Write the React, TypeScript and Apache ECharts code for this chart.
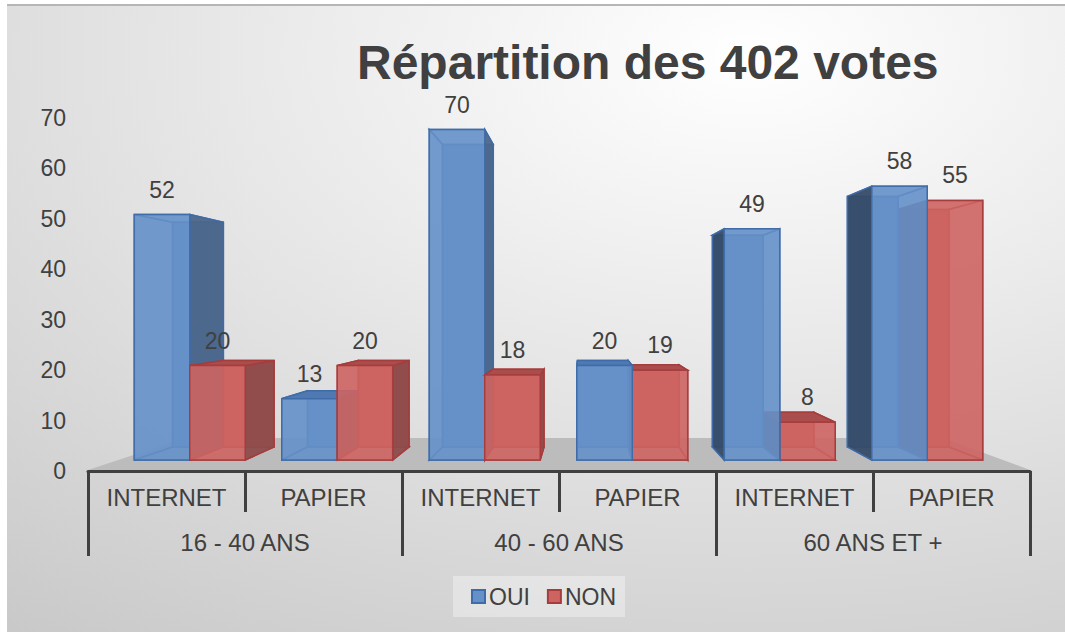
import React, { useEffect, useRef } from "react";
import * as echarts from "echarts";

const TITLE = "Répartition des 402 votes";
const SUB_CATEGORIES = ["INTERNET", "PAPIER", "INTERNET", "PAPIER", "INTERNET", "PAPIER"];
const AGE_GROUPS = ["16 - 40 ANS", "40 - 60 ANS", "60 ANS ET +"];
const SERIES_NAMES = ["OUI", "NON"];
const OUI = [52, 13, 70, 20, 49, 58];
const NON = [20, 20, 18, 19, 8, 55];
const Y_MIN = 0;
const Y_MAX = 70;
const Y_INTERVAL = 10;

// perspective settings (layout only)
const VPX = 585;
const VPY = 306;
const DEPTH = 0.085;
const FONT = "'Liberation Sans', Arial, sans-serif";
const TEXT_COLOR = "#404040";

const PALETTE = [
  { front: "#6590c8", edge: "#3e6ba9", sideR: "#4b6689", sideL: "#364b68", top: "#5079b2" },
  { front: "#cd6462", edge: "#a73c3c", sideR: "#8d4b4b", sideL: "#7a3d3d", top: "#a94d4d" },
];

const proj = (x: number, y: number) => [VPX + (1 - DEPTH) * (x - VPX), VPY + (1 - DEPTH) * (y - VPY)];

function renderBar(params: any, api: any) {
  const s = params.seriesIndex;
  const c = PALETTE[s];
  const cat = api.value(0);
  const v = api.value(1);
  const b = api.coord([cat, 0]);
  const t = api.coord([cat, v]);
  const slot = api.size([1, 0])[0];
  const bw = slot * 0.376;
  const x0 = b[0] - bw + s * bw;
  const x1 = x0 + bw;
  const yT = t[1];
  const yB = b[1];
  const cx = (x0 + x1) / 2;
  const base = Math.round(1000 - Math.abs(cx - VPX)) * 10;

  const ftl = [x0, yT], ftr = [x1, yT], fbl = [x0, yB], fbr = [x1, yB];
  const btl = proj(x0, yT), btr = proj(x1, yT), bbl = proj(x0, yB), bbr = proj(x1, yB);

  const leftVisible = x0 > VPX;
  const rightVisible = x1 < VPX;
  const topVisible = yT > VPY;
  const children: any[] = [];
  const hidden = (pts: number[][]) => ({
    type: "polygon",
    shape: { points: pts },
    style: { fill: "none", stroke: c.edge, lineWidth: 1.5 },
    z2: base + 1,
  });
  children.push({
    type: "polygon",
    shape: { points: [btl, btr, bbr, bbl] },
    style: { fill: c.front, stroke: c.edge, lineWidth: 1.5 },
    z2: base,
  });
  children.push(hidden([fbl, fbr, bbr, bbl]));
  if (!leftVisible) children.push(hidden([ftl, fbl, bbl, btl]));
  if (!rightVisible) children.push(hidden([ftr, fbr, bbr, btr]));
  if (!topVisible) children.push(hidden([ftl, ftr, btr, btl]));
  if (leftVisible)
    children.push({
      type: "polygon",
      shape: { points: [ftl, fbl, bbl, btl] },
      style: { fill: c.sideL, stroke: c.edge, lineWidth: 1.5, opacity: 0.95 },
      z2: base + 2,
    });
  if (rightVisible)
    children.push({
      type: "polygon",
      shape: { points: [ftr, fbr, bbr, btr] },
      style: { fill: c.sideR, stroke: c.edge, lineWidth: 1.5, opacity: 0.95 },
      z2: base + 2,
    });
  if (topVisible)
    children.push({
      type: "polygon",
      shape: { points: [ftl, ftr, btr, btl] },
      style: { fill: c.top, stroke: c.edge, lineWidth: 1.5 },
      z2: base + 3,
    });
  children.push({
    type: "rect",
    shape: { x: x0, y: yT, width: bw, height: yB - yT },
    style: { fill: c.front, stroke: c.edge, lineWidth: 1.5, opacity: 0.9 },
    z2: base + 4,
  });
  children.push({
    type: "text",
    style: {
      text: String(v),
      x: cx,
      y: yT - 25,
      align: "center",
      verticalAlign: "middle",
      fontSize: 23,
      fontFamily: FONT,
      fill: TEXT_COLOR,
    },
    z2: 100000,
  });
  return { type: "group", children };
}

export default function App() {
  const ref = useRef<HTMLDivElement>(null);
  useEffect(() => {
    if (!ref.current) return;
    const chart = echarts.init(ref.current, null, { renderer: "svg" });
    const floorFront = 470;
    const floorBack = 438;
    const k = (floorBack - VPY) / (floorFront - VPY);
    const fx0 = 88, fx1 = 1030;
    chart.setOption({
      animation: false,
      backgroundColor: "#ffffff",
      textStyle: { fontFamily: FONT },
      color: [PALETTE[0].front, PALETTE[1].front],
      title: {
        text: TITLE,
        left: 352,
        top: 33,
        textStyle: { fontSize: 48, fontWeight: "bold", color: TEXT_COLOR, fontFamily: FONT },
      },
      graphic: [
        {
          type: "rect",
          z: -20,
          shape: { x: 7, y: 5, width: 1058, height: 627 },
          style: {
            fill: new echarts.graphic.RadialGradient(0.7, 0.08, 1.3, [
              { offset: 0, color: "#ffffff" },
              { offset: 1, color: "#c2c2c2" },
            ]),
          },
        },
        {
          type: "line",
          z: -19,
          shape: { x1: 7, y1: 5, x2: 1065, y2: 5 },
          style: { stroke: "#b6b6b6", lineWidth: 2 },
        },
        {
          type: "polygon",
          z: -18,
          shape: {
            points: [
              [fx0, floorFront],
              [fx1, floorFront],
              [VPX + k * (fx1 - VPX), floorBack],
              [VPX + k * (fx0 - VPX), floorBack],
            ],
          },
          style: { fill: "#bcbcbc" },
        },
      ],
      legend: {
        data: SERIES_NAMES,
        left: 453,
        top: 576,
        padding: [9, 9, 9, 18],
        backgroundColor: "rgba(255,255,255,0.35)",
        itemWidth: 13,
        itemHeight: 13,
        itemGap: 17,
        icon: "rect",
        textStyle: { fontSize: 23, color: TEXT_COLOR, fontFamily: FONT, padding: [0, 0, 0, -1] },
      },
      grid: [
        { left: 88, right: 35, top: 118, bottom: 161 },
        { left: 116, right: 64, top: 129.6, bottom: 172 },
      ],
      xAxis: [
        {
          gridIndex: 0,
          type: "category",
          data: SUB_CATEGORIES,
          position: "bottom",
          axisLine: { show: true, lineStyle: { color: TEXT_COLOR, width: 3 } },
          axisTick: { show: true, interval: 0, length: 41, lineStyle: { color: TEXT_COLOR, width: 3 } },
          axisLabel: { interval: 0, margin: 14, fontSize: 24, color: TEXT_COLOR, fontFamily: FONT },
          splitLine: { show: false },
        },
        {
          gridIndex: 0,
          type: "category",
          data: AGE_GROUPS,
          position: "bottom",
          offset: 41,
          axisLine: { show: false },
          axisTick: { show: true, interval: 0, length: 44, lineStyle: { color: TEXT_COLOR, width: 3 } },
          axisLabel: { interval: 0, margin: 18, fontSize: 24, color: TEXT_COLOR, fontFamily: FONT },
          splitLine: { show: false },
        },
        {
          gridIndex: 1,
          type: "category",
          data: SUB_CATEGORIES,
          show: false,
        },
      ],
      yAxis: [
        {
          gridIndex: 0,
          type: "value",
          min: Y_MIN,
          max: Y_MAX,
          interval: Y_INTERVAL,
          axisLine: { show: false },
          axisTick: { show: false },
          splitLine: { show: false },
          axisLabel: { margin: 22, fontSize: 23, color: TEXT_COLOR, fontFamily: FONT },
        },
        {
          gridIndex: 1,
          type: "value",
          min: Y_MIN,
          max: Y_MAX,
          interval: Y_INTERVAL,
          show: false,
        },
      ],
      series: [OUI, NON].map((vals, si) => ({
        name: SERIES_NAMES[si],
        type: "custom",
        xAxisIndex: 2,
        yAxisIndex: 1,
        renderItem: renderBar,
        itemStyle: { color: PALETTE[si].front, borderColor: PALETTE[si].edge, borderWidth: 1.5 },
        data: vals.map((v, i) => [i, v]),
      })),
    });
    return () => chart.dispose();
  }, []);
  return (
    <div
      ref={ref}
      style={{ position: "fixed", left: 0, top: 0, width: 1065, height: 632 }}
    />
  );
}
